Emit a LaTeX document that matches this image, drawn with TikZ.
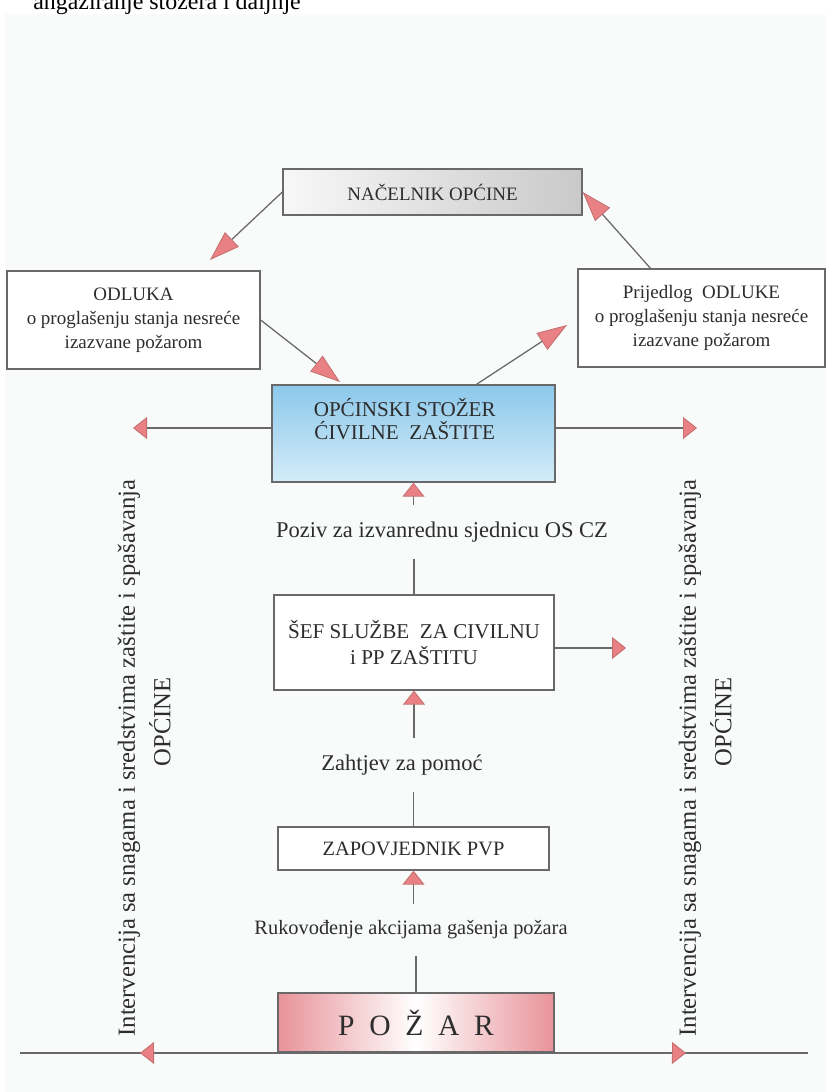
\documentclass[tikz,border=0pt]{standalone}
\usepackage{fontspec}
\setmainfont{Liberation Serif}
\usetikzlibrary{arrows.meta, positioning, calc}
\definecolor{linegray}{RGB}{105,105,105}
\definecolor{textgray}{RGB}{45,45,45}
\definecolor{tipfill}{RGB}{232,128,132}
\definecolor{tipedge}{RGB}{196,112,112}
\definecolor{stozerblue}{RGB}{140,200,235}
\definecolor{stozerlight}{RGB}{212,236,248}
\definecolor{firered}{RGB}{226,120,128}
\definecolor{bgtint}{RGB}{248,251,249}
\tikzset{
    box/.style={rectangle, draw=linegray, line width=0.9pt, fill=white, align=center, text=textgray, inner sep=2pt, font=\fontsize{13.5}{17}\selectfont},
    boxtext/.style={align=center, text=textgray, inner sep=0pt, font=\fontsize{15}{16.5}\selectfont},
    headbox/.style={box, left color=gray!6, right color=gray!42},
    stozerbox/.style={box, top color=stozerblue, bottom color=stozerlight},
    firebox/.style={box, left color=firered!80, right color=firered!80, middle color=white, font=\fontsize{21}{24}\selectfont},
    lbl/.style={inner xsep=2pt, inner ysep=12pt, text=textgray, font=\fontsize{16}{18}\selectfont},
    sidetext/.style={rotate=90, inner sep=0pt, text=textgray, font=\fontsize{17.5}{20}\selectfont},
    link/.style={line width=0.9pt, draw=linegray},
    arr/.style={link, -{Triangle[length=3.5mm, width=5.5mm, fill=tipfill, color=tipedge, line width=0.6pt]}},
    bigarr/.style={link, -{Triangle[length=7.5mm, width=5mm, fill=tipfill, color=tipedge, line width=0.6pt]}}
}
\begin{document}
\begin{tikzpicture}[x=0.025cm, y=-0.025cm]
\useasboundingbox (0,0) rectangle (826,1092);
\fill[bgtint] (5,14) rectangle (826,1092);
\node[anchor=base west, inner sep=0pt, font=\fontsize{17}{19}\selectfont] (naslov) at (33,9) {angažiranje stožera i daljnje};

% upper level
\node[headbox, minimum width=7.475cm, minimum height=1.15cm] (nacelnik) at (432.5,192) {NAČELNIK OPĆINE};
\node[box, minimum width=6.325cm, minimum height=2.45cm] (odluka) at (133.5,320) {ODLUKA\\o proglašenju stanja nesreće\\izazvane požarom};
\node[box, minimum width=6.175cm, minimum height=2.45cm] (prijedlog) at (701.5,318) {Prijedlog~~ODLUKE\\o proglašenju stanja nesreće\\izazvane požarom};
\node[stozerbox, minimum width=7.075cm, minimum height=2.425cm, label={[boxtext, xshift=-0.22cm, yshift=0.37cm]center:{OPĆINSKI STOŽER\\ĆIVILNE~~ZAŠTITE}}] (stozer) at (413.5,433.5) {};

% chain from the fire upwards
\node[box, font=\fontsize{15}{18}\selectfont, minimum width=7cm, minimum height=2.375cm] (sef) at (414,642.5) {ŠEF SLUŽBE~~ZA CIVILNU\\i PP ZAŠTITU};
\node[box, font=\fontsize{14.5}{17}\selectfont, minimum width=6.775cm, minimum height=1.075cm] (zap) at (413.5,848.5) {ZAPOVJEDNIK PVP};
\node[firebox, minimum width=6.9cm, minimum height=1.475cm] (pozar) at (416,1022.5) {P\hspace{0.5em}O\hspace{0.5em}Ž\hspace{0.5em}A\hspace{0.5em}R};
\node[lbl] (poziv) at (442,532) {Poziv za izvanrednu sjednicu OS CZ};
\node[lbl] (zahtjev) at (402,765) {Zahtjev za pomoć};
\node[lbl, font=\fontsize{14.5}{17}\selectfont] (rukov) at (411,930) {Rukovođenje akcijama gašenja požara};

% side texts
\node[sidetext] (intL) at (129,758) {Intervencija sa snagama i sredstvima zaštite i spašavanja};
\node[sidetext] (opcL) at (160,722) {OPĆINE};
\node[sidetext] (intD) at (690,758) {Intervencija sa snagama i sredstvima zaštite i spašavanja};
\node[sidetext] (opcD) at (721,722) {OPĆINE};

\coordinate (vrhL) at (210,260);
\coordinate (vrhS) at (340,382);
\coordinate (vrhP) at (567,325);
\coordinate (lijevo1) at (133,428);
\coordinate (desno1) at (697,428);
\coordinate (desno2) at (626,648);
\coordinate (krajL) at (20,1053);
\coordinate (krajD) at (808,1053);
\coordinate (lijevo2) at (140,1053);
\coordinate (desno3) at (686,1053);

\draw[bigarr] (nacelnik.west) -- (vrhL);
\draw[bigarr] ($(prijedlog.north)+(-51,0)$) -- (nacelnik.east);
\draw[bigarr] (odluka.east) -- (vrhS);
\draw[bigarr] ($(stozer.north)+(63,0)$) -- (vrhP);
\draw[arr] (stozer.west |- lijevo1) -- (lijevo1); \draw[arr] (stozer.east |- desno1) -- (desno1);
\draw[arr] (poziv.north -| stozer.south) -- (stozer.south); \draw[link] (sef.north) -- (poziv.south -| sef.north);
\draw[arr] (sef.east |- desno2) -- (desno2);
\draw[arr] (zahtjev.north -| sef.south) -- (sef.south); \draw[link] (zap.north) -- (zahtjev.south -| zap.north);
\draw[arr] (rukov.north -| zap.south) -- (zap.south); \draw[link] (pozar.north) -- (rukov.south -| pozar.north);
\draw[link] (krajL) -- (krajD);
\draw[arr] (pozar.south west) -- (lijevo2); \draw[arr] (pozar.south east) -- (desno3);
\end{tikzpicture}
\end{document}
